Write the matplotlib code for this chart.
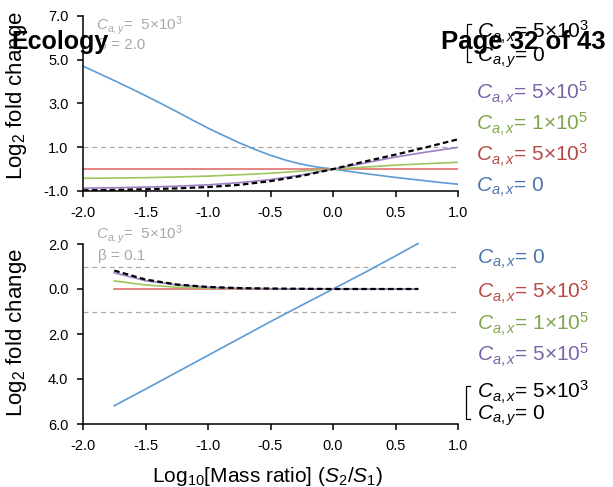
import numpy as np
import matplotlib
matplotlib.use("Agg")
import matplotlib.pyplot as plt
from matplotlib.lines import Line2D

plt.rcParams["font.family"] = ["Liberation Sans", "DejaVu Sans"]
plt.rcParams["mathtext.fontset"] = "custom"
plt.rcParams["mathtext.rm"] = "Liberation Sans"
plt.rcParams["mathtext.it"] = "Liberation Sans:italic"
plt.rcParams["mathtext.bf"] = "Liberation Sans:bold"
plt.rcParams["axes.unicode_minus"] = False

# ====================== 数据 ======================
# 上图 (β = 2.0)
x_top = [-2.0, -1.75, -1.5, -1.25, -1.0, -0.75, -0.5, -0.25, 0.0, 0.25, 0.5, 0.75, 1.0]
top_c5e3 = [0.0] * 13
top_c1e5 = [-0.42, -0.41, -0.39, -0.36, -0.32, -0.26, -0.19, -0.09, 0.0, 0.09, 0.18, 0.25, 0.31]
top_c5e5 = [-0.87, -0.85, -0.82, -0.78, -0.72, -0.62, -0.48, -0.27, 0.0, 0.27, 0.55, 0.78, 0.99]
top_cay0 = [-0.97, -0.95, -0.92, -0.88, -0.82, -0.72, -0.55, -0.31, 0.0, 0.34, 0.66, 1.00, 1.36]
# 蓝线弯曲较大，读点更密
x_top_blue = [-2.0, -1.875, -1.75, -1.625, -1.5, -1.375, -1.25, -1.125, -1.0, -0.875,
              -0.75, -0.625, -0.5, -0.375, -0.25, -0.125, 0.0, 0.125, 0.25, 0.375,
              0.5, 0.625, 0.75, 0.875, 1.0]
top_c0 = [4.70, 4.37, 4.04, 3.70, 3.35, 2.99, 2.62, 2.24, 1.87, 1.53,
          1.20, 0.90, 0.63, 0.40, 0.22, 0.09, 0.0, -0.10, -0.20, -0.29,
          -0.38, -0.46, -0.54, -0.62, -0.69]

# 下图 (β = 0.1)
x_bot = [-1.75, -1.5, -1.25, -1.0, -0.75, -0.5, -0.25, 0.0, 0.25, 0.5, 0.68]
bot_c0 = [-5.19, -4.45, -3.70, -2.95, -2.20, -1.45, -0.72, 0.0, 0.72, 1.47, 2.02]
bot_c5e3 = [0.0] * 11
bot_c1e5 = [0.36, 0.18, 0.08, 0.04, 0.02, 0.01, 0.0, 0.0, 0.0, 0.0, 0.0]
bot_c5e5 = [0.72, 0.37, 0.18, 0.08, 0.03, 0.01, 0.0, 0.0, 0.0, 0.0, 0.0]
bot_cay0 = [0.82, 0.42, 0.20, 0.09, 0.04, 0.02, 0.01, 0.0, 0.0, 0.0, 0.0]

x_ticks = [-2.0, -1.5, -1.0, -0.5, 0.0, 0.5, 1.0]
top_yticks = [-1, 1, 3, 5, 7]
top_ylabels = ["-1.0", "1.0", "3.0", "5.0", "7.0"]
bot_yticks = [-6, -4, -2, 0, 2]
bot_ylabels = ["6.0", "4.0", "2.0", "0.0", "2.0"]

legend_labels = [r"$C_{a,x}$= 0", r"$C_{a,x}$= 5×10$^{3}$",
                 r"$C_{a,x}$= 1×10$^{5}$", r"$C_{a,x}$= 5×10$^{5}$"]

# 颜色
line_cols = ["#5b9bd5", "#e0706c", "#9cc65e", "#9b80c4"]
text_cols = ["#4a76ad", "#b54a46", "#7fa64c", "#7a64a6"]
gray = "#a8a8a8"

W, H = 613, 487
fig = plt.figure(figsize=(W / 100, H / 100), dpi=100)


def fx(x):
    return x / W


def fy(y):
    return 1 - y / H


def style_axes(ax):
    for s in ["top", "right"]:
        ax.spines[s].set_visible(False)
    for s in ["left", "bottom"]:
        ax.spines[s].set_linewidth(1.1)
    ax.tick_params(direction="out", length=4, width=1.1, labelsize=10.5, pad=6.5, colors="black")
    ax.set_xlim(-2.0, 1.0)
    ax.set_xticks(x_ticks)
    ax.set_xticklabels(["%.1f" % v for v in x_ticks])


# ====================== 上图 β = 2.0 ======================
ax1 = fig.add_axes([fx(83), fy(191), fx(458) - fx(83), fy(15.7) - fy(191)])
style_axes(ax1)
ax1.set_ylim(-1, 7)
ax1.set_yticks(top_yticks)
ax1.set_yticklabels(top_ylabels)
ax1.axhline(1.0, color=gray, lw=0.9, dashes=(4, 3), zorder=1)
ax1.plot(x_top_blue, top_c0, color=line_cols[0], lw=1.2, zorder=2)
for ys, c in zip([top_c5e3, top_c1e5, top_c5e5], line_cols[1:]):
    ax1.plot(x_top, ys, color=c, lw=1.2, zorder=2)
ax1.plot(x_top, top_cay0, color="black", lw=1.6, dashes=(2.5, 1.5), zorder=3)

# ====================== 下图 β = 0.1 ======================
ax2 = fig.add_axes([fx(83), fy(424), fx(458) - fx(83), fy(244) - fy(424)])
style_axes(ax2)
ax2.set_ylim(-6, 2)
ax2.set_yticks(bot_yticks)
ax2.set_yticklabels(bot_ylabels)
ax2.axhline(1.0, color=gray, lw=0.9, dashes=(4, 3), zorder=1)
ax2.axhline(-1.0, color=gray, lw=0.9, dashes=(4, 3), zorder=1)
for ys, c in zip([bot_c0, bot_c5e3, bot_c1e5, bot_c5e5], line_cols):
    ax2.plot(x_bot, ys, color=c, lw=1.2, zorder=2, clip_on=False)
ax2.plot(x_bot, bot_cay0, color="black", lw=1.6, dashes=(2.5, 1.5), zorder=3)

# 轴标题
for yc in [95.5, 333]:
    fig.text(fx(17), fy(yc), "Log$_2$ fold change", rotation=90, ha="center",
             va="center", fontsize=16)
fig.text(fx(267.5), fy(481.5), r"Log$_{10}$[Mass ratio] ($S_2$/$S_1$)", ha="center",
         va="baseline", fontsize=15)

# 灰色注释
fig.text(fx(96), fy(30), r"$C_{a,y}$=  5×10$^{3}$", color=gray, fontsize=11, va="baseline")
fig.text(fx(98), fy(49), "β = 2.0", color=gray, fontsize=11, va="baseline")
fig.text(fx(96), fy(239), r"$C_{a,y}$=  5×10$^{3}$", color=gray, fontsize=11, va="baseline")
fig.text(fx(98), fy(260), "β = 0.1", color=gray, fontsize=11, va="baseline")

# 右侧图例（上图从上到下: 5e5, 1e5, 5e3, 0）
top_base = [191.7, 161.7, 130.7, 100]
bot_base = [263.3, 298.3, 330, 361.7]
for lab, tc, yb in zip(legend_labels, text_cols, top_base):
    fig.text(fx(476), fy(yb), lab, color=tc, fontsize=15, va="baseline")
for lab, tc, yb in zip(legend_labels, text_cols, bot_base):
    fig.text(fx(477), fy(yb), lab, color=tc, fontsize=15, va="baseline")


def bracket(x0, y0, y1, base1, base2):
    fig.add_artist(Line2D([fx(x0 + 4), fx(x0), fx(x0), fx(x0 + 4)],
                          [fy(y0), fy(y0), fy(y1), fy(y1)], color="black", lw=0.9))
    fig.text(fx(477), fy(base1), r"$C_{a,x}$= 5×10$^{3}$", fontsize=15, va="baseline")
    fig.text(fx(477), fy(base2), r"$C_{a,y}$= 0", fontsize=15, va="baseline")


bracket(467, 24, 62, 38.3, 61.7)
bracket(466, 386, 419, 398.3, 420)

# 页眉覆盖文字
fig.text(fx(11), fy(42), "Ecology", fontsize=18, fontweight="bold", va="center", zorder=10)
fig.text(fx(606), fy(42), "Page 32 of 43", fontsize=18.5, fontweight="bold", va="center",
         ha="right", zorder=10)

plt.savefig("out.png", dpi=100)
